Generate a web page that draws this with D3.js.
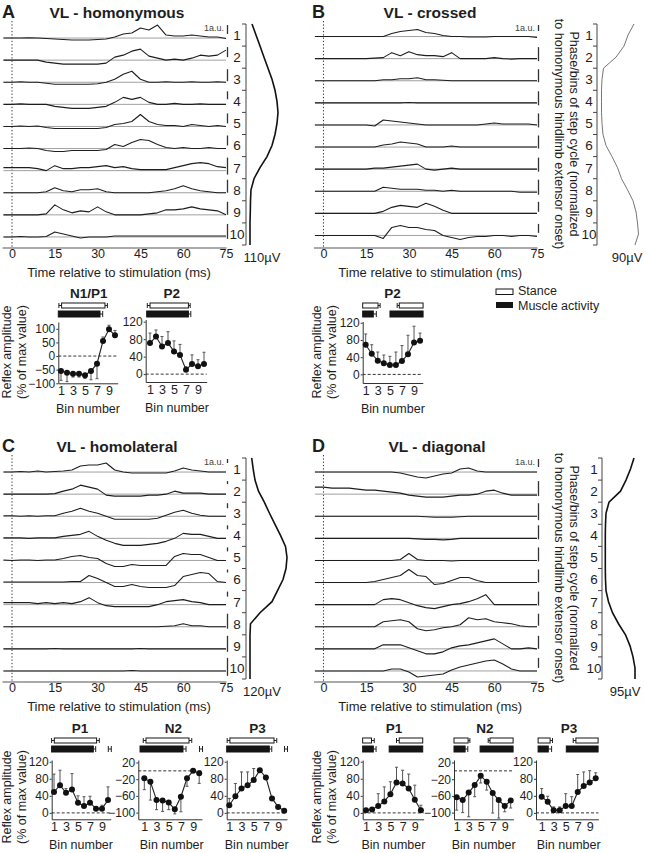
<!DOCTYPE html>
<html><head><meta charset="utf-8">
<script src="https://cdn.jsdelivr.net/npm/d3@7/dist/d3.min.js"></script>
<style>
body{margin:0;background:#fff}
svg{display:block}
</style>
</head><body>
<svg id="fig" width="645" height="853"></svg>
<script>
// ---------------- DATA ----------------
const timeMs = [-3,0,3,6,9,12,15,18,21,24,27,30,33,36,39,42,45,48,51,54,57,60,63,66,69,72,75];
const xTicks = [0,15,30,45,60,75];
const binLabels = ["1","2","3","4","5","6","7","8","9","10"];
const smallBinTicks = [1,3,5,7,9];

// mean rectified EMG traces (a.u., deviation from baseline), bins 1..10
const tracesA = [
 [0,0,0,0.3,0,-0.5,-1,-1.5,-2,-2,-2,-1.5,-1,1,4,5,10,8,13,3,2,2,3,2,1,1,-0.5],
 [0,0,0,0,0,-2,-3,-4,-4,-4,-4,-4,-3,3,5,9,11,4,2,0,1,0,2,5,4,5,10],
 [0,0,0.5,0,0,-1,-2,-2,-2,-2,-2,-1.5,0,3,8,11,3,0,0,0.5,0,0,0.5,0,0,0.5,0],
 [0,0,0.5,0,0,0,-2,-3,-4,-4,-4,-3,-2,2,7,5,7,2,0,0,1,0,0,0.5,0,0,0],
 [0,0,0.5,0,0.5,-1,-2,-2,-2,-2,-2,-2,-1,2,3,5,12,5,2,1,1,0,2,1,0,1,0],
 [0,0,0,0.5,0,-2,-3,-3,-2,-2,-2,-2,-1,4,2,6,9,8,4,1,0,1,0,0,1,0,0],
 [3,3,3,3,2,0,5,2,2,3,3,4,5,3,4,2,1,1,1,1,3,5,7,8,7,4,3],
 [0,0,0,0,0,1,5,2,1,3,3,4,1,0,0,0,0,0,1,2,4,7,4,2,1,0,0],
 [0,0,0,0,0,1,10,5,2,4,3,8,3,0,0,0,0,1,2,5,5,6,8,6,5,4,0],
 [0,0,0.5,0,0,0.5,5,3,1,-1,0,0,0,1,1,1,1,1,1,1,1,1,1,1,1,1,1]
];
const tracesB = [
 [0,0,0,0,0,0,0,0,0,3,5,6,7,4,3,1,0,0,-0.5,-0.5,-0.5,0,0,0,0,0,-1],
 [0,0,0,0,0,0,0,0.5,1,6,3,7,4,3,3,2,6,0,0,0,0,1,0,-0.5,0,0,0],
 [0,0,0,0,0,0,0,0,1,1,2,2,3,1,1,0.5,0,0,0,0,0,0,0,0,0,0,0],
 [0,0,0,0,0,0,0,0,0,0,0,0.3,0,0,0,0,0,0,0,0,0,0,0,0,0,0,0],
 [0,0,0,0,0,0,0,-1,5,4,3,2,1,0,0,0,0,0,0,0,1,2,1,1,1,1,0],
 [0,0,0,0,0,0,0,0,2,3,5,4,3,0,0,0,1,0,0,0,0,0,0,0,0,0,0],
 [0,0,0,0,0,0,0,1,1,2,3,4,5,0,-1,0,1,0,0,0,0,0,0,0,0,0,0],
 [0,0,0,0,0,0,0,0,4,3,2,2,2,1,1,0,1,0,0,0,0,0,0,0,-1,-1,-1],
 [0,0,0,0,0,0,0,0,2,6,8,7,6,10,7,3,0,0,0,0,0,0,0,0,0,0,0],
 [0,0,0,0,0,0,0,0,-3,8,10,8,8,6,5,0,-2,-4,-2,-1,-1,0,0,-1,0,0,-1]
];
const tracesC = [
 [0,0,0.5,0,1,0,0.5,1,2,6,7,7,9,2,0,-1,-1,-1,-1,-1,1,4,2,1,0,0,0],
 [0,0,0,0,0,0,0.5,3,5,9,7,5,-1,-2,-2,-2,-2,-1,-1,0,3,1,1,1,0,0,0],
 [0.5,0.5,0,0.5,0,0.5,0.5,3,5,8,5,3,0,-3,-3,-3,-3,-3,-2,1,4,6,3,1,0,0,0],
 [0.5,0.5,0.5,0,0.5,0.5,0.5,2,3,4,7,2,-2,-5,-7,-7,-7,-6,-5,-3,0,5,4,4,2,0,0],
 [0.5,0,0.5,0.5,0,0.5,0.5,2,4,5,3,2,-3,-6,-6,-4,-5,-5,-5,-5,4,7,6,6,3,0,0],
 [0.5,0.5,0.5,0.5,0.5,0.5,0.5,0.5,1,1,7,4,0,-4,-4,-2,-4,-5,-5,-5,-3,6,8,10,9,1,0],
 [2,2,2,2,1,2,1,2,1,3,7,2,-1,-2,-2,-2,-2,-2,0,3,4,5,3,2,0,0,0],
 [0,0,0,0,0,0,0,0,0,0,0,0,0,0,0,0,0,0,0,0.5,1,3,1,1,0,0,0],
 [0,0,0,0,0,0,0.3,0,0,0,0,0,0,0,0,0,0.3,0,0,0,0,0,0,0,0,0,0],
 [0,0,0,0,0,0,0,0,0,0,0,0,0,0,0,0.5,0,0,0,0,0,0,0,0,0,0,0]
];
const tracesD = [
 [0,0,0,0,0,0,0,0,0,0,-1,-3,-5,-6,-4,-2,-1,3,4,1,0,0,0,0,0,0,0],
 [7,7,6,6,6,5,4,4,3,2,1,-1,-2,-3,-3,-3,-2,-1,-1,0,3,4,1,-1,-1,-1,-1],
 [0,0,0,0,0,0,0,0,0,0,0,0,0,-0.5,-1,-1,-1,-0.5,0,0,0,0,0,0,0,0,0],
 [0,0,0,0,0,0,0,0,0,0,0,0,-0.5,-1,-1,-1.5,-1,0,0,0,0,0,0,0,0,0,0],
 [0,0,0,0,0,0,0,0,0,0,1,7,1,0,0,0,-0.5,0,0,0,0,0,0,0,0,0,0],
 [0,0,0,0,0,0,0,1,3,5,7,13,7,6,-2,-1,2,5,5,2,0,0,0,0,0,0,0],
 [0,0,0,0,0,0,0,0,5,6,5,2,-1,-3,-4,-2,0,1,3,6,10,0,0,0,0,0,0],
 [0,0,0,0,0,0,0,0,5,6,7,5,-2,-4,-3,-1,0,2,9,7,8,5,4,3,1,0,0],
 [0,0,0,0,0,0,0,0,4,4,4,1,-2,-5,-5,-3,1,3,4,6,8,10,5,0,0,1,0],
 [0,0,0,0,0,0,0,0,0,2,2,-1,-6,-5,-4,-3,1,4,6,8,10,11,7,2,0,0,0]
];
// height of the 1 a.u. calibration bar of each bin (trace units)
const auA = [9,10,12,8,10,10,17,13,13,15];
const auB = [6,14,13,14,14,13,14,15,10,9];
const auC = [4,3,5,4,4,3,5,15,16,18];
const auD = [8,15,17,14,14,13,14,12,13,10];
// step-cycle EMG profile of the recorded muscle, sampled every half bin (0..10)
const profileA = [6,10,14,18,22,26,29,31,32,31,29,26,21,14,8,5,4.5,4.3,4,4,4];
const profileB = [37,31,27,19,6.5,5,4.5,4.5,4.5,5,6,9,15,20.5,24.5,30.5,36,39,40.5,41.5,38];
const profileC = [5.7,7.2,9,12.5,18.3,23.5,29,34.5,39.5,41,40,37,31.5,26,14,4.5,4,4,4,4,4];
const profileD = [32,28.5,24,18.5,7,4,3.5,3.3,3.3,3.3,3.3,3.5,4,6.5,10.5,16.5,23.5,28,31,33,33];

// reflex amplitude (% of max value) per bin, mean and SD
const meanA_N1P1 = [-55,-61,-65,-65,-70,-55,-28,55,98,76];
const sdA_N1P1   = [34,33,12,12,12,32,55,15,15,18];
const meanA_P2   = [71,86,63,71,52,44,10,23,18,23];
const sdA_P2     = [23,15,23,26,24,24,7,21,15,27];
const meanB_P2   = [69,48,32,26,22,22,31,47,74,78];
const sdB_P2     = [25,21,20,19,20,30,36,44,38,18];
const meanC_P1   = [49,65,47,55,24,16,24,10,10,30];
const sdC_P1     = [42,35,10,37,16,22,15,4,8,31];
const meanC_N2   = [-18,-26,-70,-71,-76,-92,-62,-18,0,-6];
const sdC_N2     = [27,44,23,26,17,11,36,19,0,24];
const meanC_P3   = [18,39,57,65,77,100,83,34,14,5];
const sdC_P3     = [16,30,39,31,27,4,4,4,4,3];
const meanD_P1   = [6,8,16,27,44,71,69,57,31,6];
const sdD_P1     = [3,3,29,34,29,36,31,34,34,12];
const meanD_N2   = [-63,-70,-52,-34,-12,-26,-53,-70,-84,-71];
const sdD_N2     = [31,30,58,28,17,20,48,43,14,18];
const meanD_P3   = [38,26,6,6,16,16,49,63,71,81];
const sdD_P3     = [19,13,8,8,29,22,41,33,28,13];

// stance / muscle activity periods in bin units: [start, end, sdStart, sdEnd]
const stanceA_N1P1 = [[1.1,8.33,0.45,0.4]];  const actA_N1P1 = [[0.55,7.5,0,0.45]];
const stanceA_P2   = [[1.0,7.4,0.45,0.3]];   const actA_P2   = [[0.45,7.4,0,0.4]];
const stanceB_P2   = [[0.5,3.04,0,0.35],[6.56,10.5,0.35,0]]; const actB_P2 = [[0.5,2.26,0,0.5],[5.02,10.5,0,0]];
const stanceC_P1   = [[1.05,8.1,0.45,0.45]]; const actC_P1   = [[0.6,7.55,0,0.4]];
const stanceC_N2   = [[1.28,8.33,0.45,0.45]];const actC_N2   = [[0.3,7.34,0,0.5]];
const stanceC_P3   = [[1.1,8.33,0.45,0.45]]; const actC_P3   = [[0.57,7.56,0,0.4]];
const stanceD_P1   = [[0.45,1.9,0,0.45],[6.45,10.3,0.45,0]]; const actD_P1 = [[0.45,2.2,0,0.45],[4.8,10.3,0,0]];
const stanceD_N2   = [[0.55,2.9,0,0.3],[6.55,10.4,0.3,0]];   const actD_N2 = [[0.55,2.4,0,0.45],[4.9,10.4,0,0]];
const stanceD_P3   = [[0.4,2.4,0,0.4],[6.7,10.4,0.45,0]];    const actD_P3 = [[0.4,2.1,0,0.55],[5.1,10.4,0,0]];
// isolated SD marker of activity onset
const loneC = [10.3];

// ---------------- DRAWING ----------------
const FONT = '"Liberation Sans", Arial, Helvetica, sans-serif';
const INK = '#1e1e1e';
const svg = d3.select('#fig');
svg.append('rect').attr('width',645).attr('height',853).attr('fill','#fff');

function txt(g, x, y, s, o) {
  o = o || {};
  const t = g.append('text').attr('x', x).attr('y', y).text(s)
    .attr('font-family', FONT).attr('font-size', o.size || 13)
    .attr('fill', o.fill || INK)
    .attr('text-anchor', o.anchor || 'start');
  if (o.bold) t.attr('font-weight', 'bold');
  if (o.rotate !== undefined) t.attr('transform', `rotate(${o.rotate},${x},${y})`);
  if (o.dy) t.attr('dy', o.dy);
  return t;
}

const DY = 434;
const topPanels = [
  {letter:'A', title:'VL - homonymous', titleX:117, letterX:2, oy:0, x0:2, x1:226, traces:tracesA, au:auA,
   prof:profileA, profX:246, labX:237, uv:'110\u00b5V', uvX:262, baseOff:3, thin:false, side:false},
  {letter:'B', title:'VL - crossed', titleX:430, letterX:312, oy:0, x0:313.5, x1:537, traces:tracesB, au:auB,
   prof:profileB, profX:597, labX:589, uv:'90\u00b5V', uvX:627, baseOff:1.5, thin:true, side:true},
  {letter:'C', title:'VL - homolateral', titleX:117, letterX:2, oy:DY, x0:2, x1:226, traces:tracesC, au:auC,
   prof:profileC, profX:246, labX:237, uv:'120\u00b5V', uvX:262, baseOff:3, thin:false, side:false},
  {letter:'D', title:'VL - diagonal', titleX:437, letterX:312, oy:DY, x0:313.5, x1:537, traces:tracesD, au:auD,
   prof:profileD, profX:602, labX:594, uv:'95\u00b5V', uvX:625, baseOff:3, thin:false, side:true}
];

topPanels.forEach(p => {
  const g = svg.append('g');
  const oy = p.oy;
  const x = d3.scaleLinear().domain([-3.5, 75]).range([p.x0, p.x1]);
  const binTop = 24 + oy, binH = 22.1;
  const binY = d3.scaleLinear().domain([0, 10]).range([binTop, binTop + 10 * binH]);
  const axisY = 247.5 + oy;

  txt(g, p.letterX, 18 + oy, p.letter, {size:18, bold:true});
  txt(g, p.titleX, 18 + oy, p.title, {size:15.5, bold:true, anchor:'middle'});

  // stimulation time
  g.append('line').attr('x1', x(0)).attr('x2', x(0)).attr('y1', binTop - 3).attr('y2', axisY)
    .attr('stroke', '#333').attr('stroke-width', 1).attr('stroke-dasharray', '1.3,2');

  const line = d3.line().x((d, j) => x(timeMs[j]));
  p.traces.forEach((tr, i) => {
    const base = binY(i + 0.5) + p.baseOff;
    const y = d3.scaleLinear().domain([-10, 10]).range([base + 10, base - 10]);
    g.append('line').attr('x1', x(-3)).attr('x2', x(75)).attr('y1', y(0)).attr('y2', y(0))
      .attr('stroke', '#a0a0a0').attr('stroke-width', 1);
    g.append('path').datum(tr).attr('d', line.y(d => y(d)))
      .attr('fill', 'none').attr('stroke', INK).attr('stroke-width', 1.1).attr('stroke-linejoin', 'round');
    // calibration bar (1 a.u.)
    const by = d3.scaleLinear().domain([0, 10]).range([0, 10]);
    g.append('line').attr('x1', x(75) + 1.5).attr('x2', x(75) + 1.5)
      .attr('y1', binY(i) + 1).attr('y2', binY(i) + 1 + by(p.au[i]))
      .attr('stroke', '#333').attr('stroke-width', 1.3);
    txt(g, p.labX, binY(i + 0.5), binLabels[i], {size:13.5, anchor:'middle', dy:'0.36em'});
  });
  txt(g, x(75) - 2, binTop + 7, '1a.u.', {size:9, anchor:'end', fill:'#444'});

  // time axis
  const ax = g.append('g').attr('transform', `translate(0,${axisY})`)
    .call(d3.axisBottom(x).tickValues(xTicks).tickSize(0).tickPadding(2).tickSizeOuter(0));
  ax.select('.domain').attr('stroke', '#555');
  ax.selectAll('text').attr('font-family', FONT).attr('font-size', 12.5).attr('fill', INK);
  txt(g, x(37.5), 277 + oy, 'Time relative to stimulation (ms)', {size:13, anchor:'middle'});

  // bin axis with profile
  g.append('line').attr('x1', p.profX).attr('x2', p.profX).attr('y1', binY(0)).attr('y2', binY(10))
    .attr('stroke', '#444').attr('stroke-width', 1);
  d3.range(11).forEach(k => {
    g.append('line').attr('x1', p.profX - 4).attr('x2', p.profX).attr('y1', binY(k)).attr('y2', binY(k))
      .attr('stroke', '#444').attr('stroke-width', 1);
  });
  const px = d3.scaleLinear().domain([0, 40]).range([p.profX, p.profX + 40]);
  g.append('path').datum(p.prof)
    .attr('d', d3.line().x(d => px(d)).y((d, k) => binY(k / 2)))
    .attr('fill', 'none').attr('stroke', p.thin ? '#666' : '#111')
    .attr('stroke-width', p.thin ? 0.9 : 1.6);
  txt(g, p.uvX, 261.5 + oy, p.uv, {size:13, anchor:'middle'});

  if (p.side) {
    const cy = 134 + oy;
    txt(g, 574, cy, 'Phase/bins of step cycle (normalized', {size:12.6, anchor:'middle', rotate:90, dy:'0.35em'});
    txt(g, 559.5, cy, 'to homonymous hindlimb extensor onset)', {size:12.6, anchor:'middle', rotate:90, dy:'0.35em'});
  }
});

// ---------------- small reflex plots ----------------
const smallPlots = [
  {title:'N1/P1', titleX:88.7, oy:0, axisX:58.3, bin1:61, step:6, dom:[-100,125], rng:[383.3,322],
   ticks:[-100,-50,0,50,100], mean:meanA_N1P1, sd:sdA_N1P1, stance:stanceA_N1P1, act:actA_N1P1, lone:[]},
  {title:'P2', titleX:171.7, oy:0, axisX:145.7, bin1:150, step:6, dom:[-18,125], rng:[382,319.5],
   ticks:[0,40,80,120], mean:meanA_P2, sd:sdA_P2, stance:stanceA_P2, act:actA_P2, lone:[]},
  {title:'P2', titleX:392.5, oy:0, axisX:362.7, bin1:365.7, step:6.04, dom:[-20,123], rng:[383,321.5],
   ticks:[0,40,80,120], mean:meanB_P2, sd:sdB_P2, stance:stanceB_P2, act:actB_P2, lone:[]},
  {title:'P1', titleX:80, oy:435, axisX:51.7, bin1:54, step:6, dom:[-15,124], rng:[819.3,760],
   ticks:[0,40,80,120], mean:meanC_P1, sd:sdC_P1, stance:stanceC_P1, act:actC_P1, lone:loneC},
  {title:'N2', titleX:173.3, oy:435, axisX:138.3, bin1:144.3, step:6.1, dom:[-116,26], rng:[819.3,760],
   ticks:[-100,-60,-20,20], mean:meanC_N2, sd:sdC_N2, stance:stanceC_N2, act:actC_N2, lone:loneC},
  {title:'P3', titleX:257.5, oy:435, axisX:226.7, bin1:229.3, step:6.1, dom:[-15,124], rng:[819.3,760],
   ticks:[0,40,80,120], mean:meanC_P3, sd:sdC_P3, stance:stanceC_P3, act:actC_P3, lone:loneC},
  {title:'P1', titleX:394, oy:435, axisX:362.7, bin1:366, step:6.1, dom:[-15,124], rng:[819.3,760],
   ticks:[0,40,80,120], mean:meanD_P1, sd:sdD_P1, stance:stanceD_P1, act:actD_P1, lone:[]},
  {title:'N2', titleX:485, oy:435, axisX:454, bin1:456.7, step:6, dom:[-116,26], rng:[819.3,760],
   ticks:[-100,-60,-20,20], mean:meanD_N2, sd:sdD_N2, stance:stanceD_N2, act:actD_N2, lone:[]},
  {title:'P3', titleX:569, oy:435, axisX:536, bin1:541.7, step:6, dom:[-15,124], rng:[819.3,760],
   ticks:[0,40,80,120], mean:meanD_P3, sd:sdD_P3, stance:stanceD_P3, act:actD_P3, lone:[]}
];

function drawPeriods(g, segs, bx, y0, h, filled) {
  segs.forEach(s => {
    const [a, b, sl, sr] = s;
    const mid = y0 + h / 2;
    [[a, -sl], [b, sr]].forEach(([e, sd]) => {
      if (sd !== 0) {
        const xe = bx(e + sd);
        g.append('line').attr('x1', bx(e)).attr('x2', xe).attr('y1', mid).attr('y2', mid)
          .attr('stroke', '#222').attr('stroke-width', 1);
        g.append('line').attr('x1', xe).attr('x2', xe).attr('y1', y0).attr('y2', y0 + h)
          .attr('stroke', '#222').attr('stroke-width', 1);
      }
    });
    g.append('rect').attr('x', bx(a)).attr('y', y0).attr('width', bx(b) - bx(a)).attr('height', h)
      .attr('fill', filled ? '#151515' : '#fff').attr('stroke', '#151515').attr('stroke-width', 1);
  });
}

smallPlots.forEach(sp => {
  const g = svg.append('g');
  const oy = sp.oy;
  const bx = b => sp.bin1 + (b - 1) * sp.step;
  const y = d3.scaleLinear().domain(sp.dom).range(sp.rng);
  const yBot = sp.rng[0];
  const bStart = 1 + (sp.axisX - sp.bin1) / sp.step;
  const xs = d3.scaleLinear().domain([bStart, 10.45]).range([sp.axisX, bx(10.45)]);

  txt(g, sp.titleX, 298 + oy, sp.title, {size:13.5, bold:true, anchor:'middle'});
  drawPeriods(g, sp.stance, bx, 303 + oy, 5, false);
  drawPeriods(g, sp.act, bx, 311 + oy, 6, true);
  sp.lone.forEach(b => {
    const xc = bx(b);
    g.append('line').attr('x1', xc - 1.5).attr('x2', xc + 1.5).attr('y1', 314 + oy).attr('y2', 314 + oy).attr('stroke', '#222');
    [xc - 1.5, xc + 1.5].forEach(xx => g.append('line').attr('x1', xx).attr('x2', xx)
      .attr('y1', 311 + oy).attr('y2', 317 + oy).attr('stroke', '#222'));
  });

  // zero line
  g.append('line').attr('x1', sp.axisX).attr('x2', bx(10.45)).attr('y1', y(0)).attr('y2', y(0))
    .attr('stroke', '#333').attr('stroke-width', 1).attr('stroke-dasharray', '3,2');

  const ya = g.append('g').attr('transform', `translate(${sp.axisX},0)`)
    .call(d3.axisLeft(y).tickValues(sp.ticks).tickSize(2).tickPadding(1).tickSizeOuter(0));
  ya.selectAll('text').attr('font-family', FONT).attr('font-size', 12).attr('fill', INK);
  ya.selectAll('line,path').attr('stroke', '#333');

  const xa = g.append('g').attr('transform', `translate(0,${yBot})`)
    .call(d3.axisBottom(xs).tickValues(smallBinTicks).tickSize(0).tickPadding(3).tickSizeOuter(0));
  xa.selectAll('text').attr('font-family', FONT).attr('font-size', 12.5).attr('fill', INK);
  xa.select('.domain').attr('stroke', '#333');
  txt(g, bx(5.5), yBot + 30, 'Bin number', {size:12.5, anchor:'middle'});

  // SD bars (directed away from zero)
  sp.mean.forEach((m, i) => {
    const e = sp.sd[i];
    if (!e) return;
    const end = m < 0 ? m - e : m + e;
    const xc = bx(i + 1);
    g.append('line').attr('x1', xc).attr('x2', xc).attr('y1', y(m)).attr('y2', y(end))
      .attr('stroke', '#555').attr('stroke-width', 1);
    g.append('line').attr('x1', xc - 1.5).attr('x2', xc + 1.5).attr('y1', y(end)).attr('y2', y(end))
      .attr('stroke', '#555').attr('stroke-width', 1);
  });
  g.append('path').datum(sp.mean)
    .attr('d', d3.line().x((d, i) => bx(i + 1)).y(d => y(d)))
    .attr('fill', 'none').attr('stroke', '#222').attr('stroke-width', 1.1);
  g.selectAll(null).data(sp.mean).enter().append('circle')
    .attr('cx', (d, i) => bx(i + 1)).attr('cy', d => y(d)).attr('r', 3).attr('fill', '#111');
});

// y-axis titles of the reflex plots
[[7, 21.5, 352], [317, 331.5, 352], [7, 21.5, 797], [317, 331.5, 797]].forEach(([x1, x2, cy]) => {
  txt(svg, x1, cy, 'Reflex amplitude', {size:12.5, anchor:'middle', rotate:-90, dy:'0.35em'});
  txt(svg, x2, cy, '(% of max value)', {size:12.5, anchor:'middle', rotate:-90, dy:'0.35em'});
});

// legend
const lg = svg.append('g');
lg.append('rect').attr('x', 496).attr('y', 289).attr('width', 17).attr('height', 5.5)
  .attr('fill', '#fff').attr('stroke', '#151515');
lg.append('rect').attr('x', 496).attr('y', 302).attr('width', 17).attr('height', 6).attr('fill', '#151515');
txt(lg, 518, 291, 'Stance', {size:12.5, dy:'0.35em'});
txt(lg, 518, 305.5, 'Muscle activity', {size:12.5, dy:'0.35em'});
</script>
</body></html>
